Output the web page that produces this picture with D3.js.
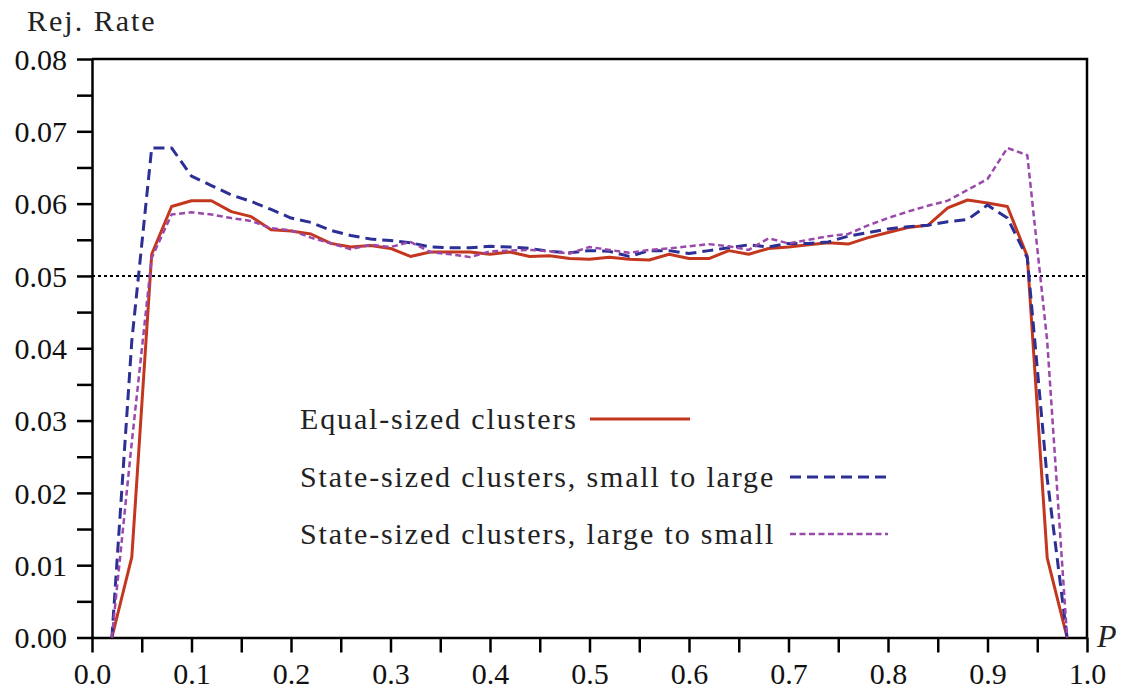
<!DOCTYPE html>
<svg width="1128" height="692"></svg>
<script src="https://d3js.org/d3.v7.min.js"></script>
<style>
    body { margin: 0; background: #fff; }
    svg { display: block; }
</style>
<script>
    var pValues = [0.02, 0.04, 0.06, 0.08, 0.10, 0.12, 0.14, 0.16, 0.18, 0.20,
        0.22, 0.24, 0.26, 0.28, 0.30, 0.32, 0.34, 0.36, 0.38, 0.40,
        0.42, 0.44, 0.46, 0.48, 0.50, 0.52, 0.54, 0.56, 0.58, 0.60,
        0.62, 0.64, 0.66, 0.68, 0.70, 0.72, 0.74, 0.76, 0.78, 0.80,
        0.82, 0.84, 0.86, 0.88, 0.90, 0.92, 0.94, 0.96, 0.98];

    var equalSized = [0, 0.0111, 0.0530, 0.0596, 0.0604, 0.0604, 0.0589, 0.0582, 0.0564, 0.0562,
        0.0558, 0.0545, 0.0540, 0.0542, 0.0538, 0.0527, 0.0533, 0.0533, 0.0533, 0.0530,
        0.0533, 0.0527, 0.0528, 0.0524, 0.0523, 0.0526, 0.0523, 0.0522, 0.0530, 0.0524,
        0.0524, 0.0535, 0.0530, 0.0538, 0.0540, 0.0543, 0.0546, 0.0544, 0.0553, 0.0560,
        0.0567, 0.0570, 0.0594, 0.0605, 0.0601, 0.0596, 0.0527, 0.0110, 0];

    var smallToLarge = [0, 0.0410, 0.0677, 0.0677, 0.0638, 0.0625, 0.0612, 0.0603, 0.0592, 0.0580,
        0.0574, 0.0563, 0.0556, 0.0551, 0.0549, 0.0546, 0.0540, 0.0539, 0.0539, 0.0541,
        0.0540, 0.0538, 0.0534, 0.0532, 0.0535, 0.0534, 0.0527, 0.0535, 0.0535, 0.0531,
        0.0535, 0.0539, 0.0543, 0.0540, 0.0545, 0.0545, 0.0547, 0.0555, 0.0560, 0.0565,
        0.0568, 0.0570, 0.0575, 0.0578, 0.0598, 0.0580, 0.0525, 0.0220, 0];

    var largeToSmall = [0, 0.0270, 0.0525, 0.0585, 0.0588, 0.0585, 0.0580, 0.0576, 0.0566, 0.0563,
        0.0553, 0.0545, 0.0537, 0.0543, 0.0540, 0.0547, 0.0533, 0.0530, 0.0526, 0.0534,
        0.0535, 0.0536, 0.0534, 0.0531, 0.0540, 0.0536, 0.0532, 0.0536, 0.0538, 0.0541,
        0.0544, 0.0541, 0.0536, 0.0552, 0.0545, 0.0550, 0.0555, 0.0558, 0.0570, 0.0580,
        0.0589, 0.0597, 0.0604, 0.0619, 0.0634, 0.0677, 0.0667, 0.0410, 0];

    var nominalLevel = 0.05;

    var series = [
        { name: "Equal-sized clusters", values: equalSized, color: "#c4371f", dash: null, width: 3, legendX: [590, 690] },
        { name: "State-sized clusters, small to large", values: smallToLarge, color: "#2c2f94", dash: "11,6", width: 3, legendX: [790, 888] },
        { name: "State-sized clusters, large to small", values: largeToSmall, color: "#9a48ab", dash: "6,3.5", width: 2.5, legendX: [790, 888] }
    ];

    var serif = "'Liberation Serif'";

    var svg = d3.select("svg"),
        margin = { top: 59, right: 41, bottom: 54.5, left: 92 },
        width = +svg.attr("width") - margin.left - margin.right,
        height = +svg.attr("height") - margin.top - margin.bottom,
        g = svg.append("g").attr("transform", "translate(" + margin.left + "," + margin.top + ")");

    var x = d3.scaleLinear().domain([0, 1]).range([0, width]);
    var y = d3.scaleLinear().domain([0, 0.08]).range([height, 0]);

    var xTicks = d3.range(0, 21).map(function (i) { return i / 20; });
    var yTicks = d3.range(0, 17).map(function (i) { return i / 200; });

    // frame: top and right edges
    g.append("path")
        .attr("d", "M0,0H" + width + "V" + height)
        .attr("fill", "none")
        .attr("stroke", "#000")
        .attr("stroke-width", 2.5);

    function styleAxis(a) {
        a.select(".domain").attr("stroke", "#000").attr("stroke-width", 2.5);
        a.selectAll(".tick line").attr("stroke", "#000").attr("stroke-width", 2.5);
        a.selectAll("text")
            .style("font-family", serif)
            .attr("font-size", 30)
            .attr("fill", "#111");
    }

    g.append("g")
        .attr("transform", "translate(0," + height + ")")
        .call(d3.axisBottom(x)
            .tickValues(xTicks)
            .tickSize(15)
            .tickSizeOuter(0)
            .tickPadding(10)
            .tickFormat(function (d, i) { return i % 2 === 0 ? d3.format(".1f")(d) : ""; }))
        .call(styleAxis);

    g.append("g")
        .call(d3.axisLeft(y)
            .tickValues(yTicks)
            .tickSize(15)
            .tickSizeOuter(0)
            .tickPadding(10)
            .tickFormat(function (d, i) { return i % 2 === 0 ? d3.format(".2f")(d) : ""; }))
        .call(styleAxis)
        .selectAll("text").attr("dy", "0.34em");

    // nominal level
    g.append("line")
        .attr("x1", 0).attr("x2", width)
        .attr("y1", y(nominalLevel)).attr("y2", y(nominalLevel))
        .attr("stroke", "#000")
        .attr("stroke-width", 2)
        .attr("stroke-dasharray", "3,3");

    var line = d3.line()
        .x(function (d, i) { return x(pValues[i]); })
        .y(function (d) { return y(d); });

    series.forEach(function (s) {
        g.append("path")
            .datum(s.values)
            .attr("d", line)
            .attr("fill", "none")
            .attr("stroke", s.color)
            .attr("stroke-width", s.width)
            .attr("stroke-linejoin", "round")
            .attr("stroke-dasharray", s.dash);
    });

    // legend
    var legendY = [419, 477, 534];
    series.forEach(function (s, i) {
        svg.append("text")
            .attr("x", 300)
            .attr("y", legendY[i] + 10)
            .style("font-family", serif)
            .attr("font-size", 30)
            .attr("letter-spacing", 1.85)
            .attr("fill", "#222")
            .text(s.name);
        svg.append("line")
            .attr("x1", s.legendX[0]).attr("x2", s.legendX[1])
            .attr("y1", legendY[i]).attr("y2", legendY[i])
            .attr("stroke", s.color)
            .attr("stroke-width", s.width)
            .attr("stroke-dasharray", s.dash);
    });

    svg.append("text")
        .attr("x", 27)
        .attr("y", 31)
        .style("font-family", serif)
        .attr("font-size", 30)
        .attr("letter-spacing", 2)
        .attr("fill", "#222")
        .text("Rej. Rate");

    svg.append("text")
        .attr("x", 1097)
        .attr("y", 647)
        .style("font-family", serif)
        .attr("font-size", 32)
        .attr("font-style", "italic")
        .attr("fill", "#222")
        .text("P");
</script>
